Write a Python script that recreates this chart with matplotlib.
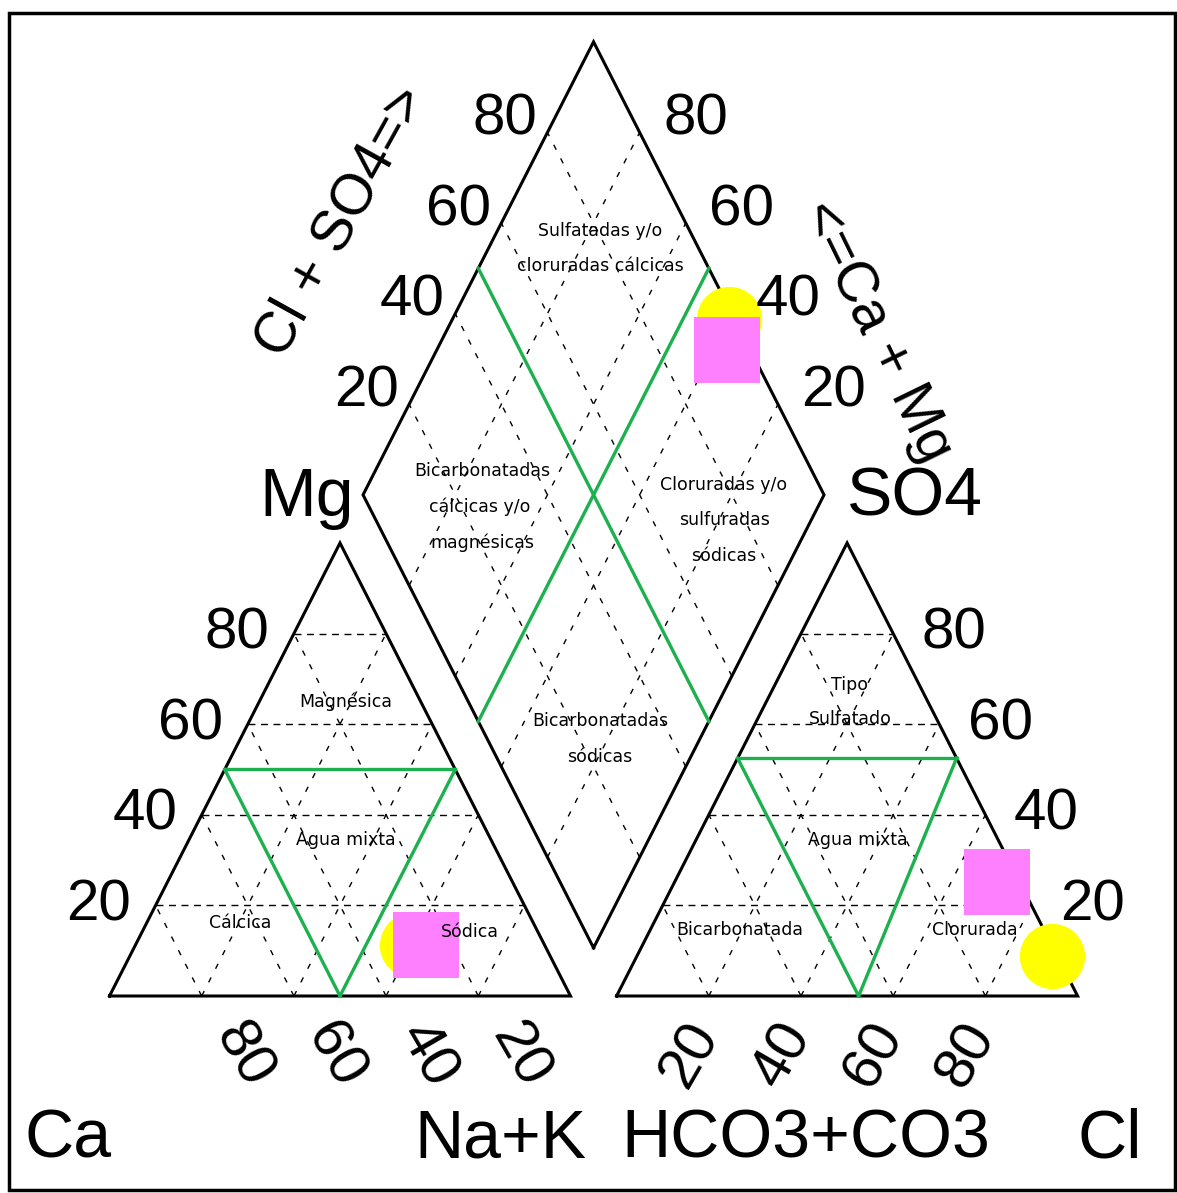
import numpy as np
import matplotlib.pyplot as plt
from matplotlib.patches import Rectangle

# samples (percent of meq/l)
ca = [25.7, 28.7]
mg = [11.3, 11.3]
nak = [63.0, 60.0]
hco3 = [5.0, 1.1]
so4 = [25.1, 8.9]
cl = [69.9, 90.0]

ticks = [20, 40, 60, 80]
cation_mix = 50.0   # green "agua mixta" triangle, cations
anion_mix = 52.5    # green "agua mixta" triangle, anions

# --- geometry ---
W, H = 1177, 1193
S3 = np.sqrt(3) / 2
GAP = 10
DOFF = 9.2
X0, Y0 = 109.5, 996.0      # pixel position of the Ca corner
KX, KY = 4.61, 5.231        # pixels per unit


def cation_xy(m, n):
    return n + m / 2, m * S3


def anion_xy(s, c):
    return 100 + GAP + c + s / 2, s * S3


def diamond_xy(camg, clso4):
    return 100 + GAP / 2 + (clso4 - camg) / 2, DOFF + (camg + clso4) * S3


def px(x, y):
    return (x - X0) / KX, (Y0 - y) / KY


fig = plt.figure(figsize=(W / 100, H / 100), dpi=100)
ax = fig.add_axes([0, 0, 1, 1])
ax.set_xlim(-X0 / KX, (W - X0) / KX)
ax.set_ylim((Y0 - H) / KY, Y0 / KY)
ax.axis('off')

black = dict(color='black', lw=2.2, zorder=2, solid_joinstyle='miter')
hdash = dict(color='black', lw=1.0, ls=(0, (5, 4)), zorder=1)
ddash = dict(color='black', lw=1.0, ls=(0, (4, 7)), zorder=1)
green = dict(color='#1db04e', lw=2.4, zorder=2)


def seg(p, q, **kw):
    ax.plot([p[0], q[0]], [p[1], q[1]], **kw)


# outlines
tri_c = [cation_xy(0, 0), cation_xy(0, 100), cation_xy(100, 0), cation_xy(0, 0)]
tri_a = [anion_xy(0, 0), anion_xy(0, 100), anion_xy(100, 0), anion_xy(0, 0)]
dia = [diamond_xy(0, 0), diamond_xy(0, 100), diamond_xy(100, 100), diamond_xy(100, 0), diamond_xy(0, 0)]
for poly in (tri_c, tri_a, dia):
    xs, ys = zip(*poly)
    ax.plot(xs, ys, **black)

# dashed grids
for v in ticks:
    seg(cation_xy(v, 0), cation_xy(v, 100 - v), **hdash)
    seg(cation_xy(0, v), cation_xy(100 - v, v), **ddash)
    seg(cation_xy(0, 100 - v), cation_xy(100 - v, 0), **ddash)
    seg(anion_xy(v, 0), anion_xy(v, 100 - v), **hdash)
    seg(anion_xy(0, v), anion_xy(100 - v, v), **ddash)
    seg(anion_xy(0, 100 - v), anion_xy(100 - v, 0), **ddash)
    seg(diamond_xy(v, 0), diamond_xy(v, 100), **ddash)
    seg(diamond_xy(0, v), diamond_xy(100, v), **ddash)

# green classification lines
a, b, c = cation_xy(cation_mix, 0), cation_xy(cation_mix, 100 - cation_mix), cation_xy(0, cation_mix)
seg(a, b, **green); seg(a, c, **green); seg(b, c, **green)
a, b, c = anion_xy(anion_mix, 0), anion_xy(anion_mix, 100 - anion_mix), anion_xy(0, anion_mix)
seg(a, b, **green); seg(a, c, **green); seg(b, c, **green)
seg(diamond_xy(50, 0), diamond_xy(50, 100), **green)
seg(diamond_xy(0, 50), diamond_xy(100, 50), **green)

# samples
styles = [dict(marker='s', color='#ff80ff', ms=48, zorder=4),
          dict(marker='o', color='#ffff00', ms=47, zorder=3)]
for i in range(len(ca)):
    pts = [cation_xy(mg[i], nak[i]), anion_xy(so4[i], cl[i]),
           diamond_xy(ca[i] + mg[i], cl[i] + so4[i])]
    for p in pts:
        ax.plot(p[0], p[1], ls='none', mew=0, **styles[i])

# tick labels
big = dict(family='Liberation Sans', ha='center', va='center', zorder=5)
fs_tick = 42
for v in ticks:
    ax.annotate(str(v), cation_xy(v, 0), xytext=(-57, 0), textcoords='offset pixels', fontsize=fs_tick, **big)
    ax.annotate(str(v), anion_xy(v, 100 - v), xytext=(61, 0), textcoords='offset pixels', fontsize=fs_tick, **big)
    ax.annotate(str(v), diamond_xy(100, v), xytext=(-43, 13), textcoords='offset pixels', fontsize=fs_tick, **big)
    ax.annotate(str(v), diamond_xy(v, 100), xytext=(56, 13), textcoords='offset pixels', fontsize=fs_tick, **big)
    ax.annotate(str(v), cation_xy(0, 100 - v), xytext=(41, -59), textcoords='offset pixels',
                fontsize=fs_tick, rotation=-60, rotation_mode='anchor', **big)
    ax.annotate(str(v), anion_xy(0, v), xytext=(-19, -59), textcoords='offset pixels',
                fontsize=fs_tick, rotation=60, rotation_mode='anchor', **big)

# axis names
for txt, (x, y) in [('Mg', (307, 498)), ('SO4', (915, 498)), ('Ca', (68, 1140)),
                    ('Na+K', (500, 1140)), ('HCO3+CO3', (806, 1140)), ('Cl', (1110, 1140))]:
    ax.text(*px(x, y), txt, fontsize=49, **big)
ax.text(*px(342, 222), 'Cl + SO4=>', fontsize=41, rotation=61, rotation_mode='anchor', **big)
ax.text(*px(876, 332), '<=Ca + Mg', fontsize=41, rotation=-64, rotation_mode='anchor', **big)

# region labels
small = dict(family='DejaVu Sans', fontsize=12.5, ha='center', va='center', zorder=6)
regions = [('Sulfatadas y/o', (600, 231)), ('cloruradas cálcicas', (600, 266)),
           ('Bicarbonatadas', (482, 471)), ('cálcicas y/o', (480, 507)), ('magnésicas', (482, 543)),
           ('Cloruradas y/o', (724, 485)), ('sulfuradas', (724, 520)), ('sódicas', (724, 556)),
           ('Bicarbonatadas', (600, 721)), ('sódicas', (600, 757)),
           ('Magnésica', (346, 702)), ('Agua mixta', (346, 840)), ('Cálcica', (240, 923)),
           ('Sódica', (470, 932)), ('Tipo', (849, 685)), ('Sulfatado', (850, 719)),
           ('Agua mixta', (858, 840)), ('Bicarbonatada', (740, 930)), ('Clorurada', (975, 930))]
for txt, (x, y) in regions:
    ax.text(*px(x, y), txt, **small)

# frame
fig.add_artist(Rectangle((9 / W, 1 - 1190 / H), 1166 / W, 1177 / H, transform=fig.transFigure,
                         fill=False, lw=2.5, color='black'))

fig.savefig('out.png', dpi=100)
